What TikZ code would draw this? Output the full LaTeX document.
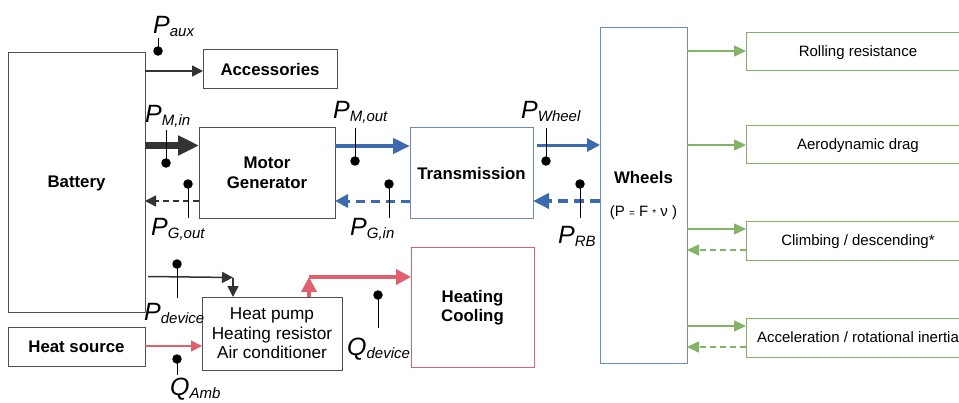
\documentclass[tikz,border=0pt]{standalone}
\usepackage{fontspec}
\setmainfont{Liberation Sans}
\usetikzlibrary{arrows.meta}
\definecolor{dk}{HTML}{333333}
\definecolor{bx}{HTML}{505050}
\definecolor{bl}{HTML}{3B6AAE}
\definecolor{blb}{HTML}{6C8EBF}
\definecolor{pk}{HTML}{E0606F}
\definecolor{gr}{HTML}{82B366}
\newcommand{\plab}[2]{{\fontsize{25}{25}\selectfont\itshape #1}\raisebox{-3pt}{\fontsize{15}{15}\selectfont\itshape #2}}
\begin{document}
\begin{tikzpicture}[x=1pt,y=-1pt,
  box/.style={draw=bx,line width=1pt,fill=white},
  bbox/.style={draw=blb,line width=1pt},
  pbox/.style={draw=pk,line width=1pt},
  gbox/.style={draw=gr,line width=1pt},
  btxt/.style={font=\fontsize{16.8}{19.5}\selectfont\bfseries,align=center},
  bone/.style={btxt,text depth=0pt},
  rtxt/.style={font=\fontsize{17.2}{19.5}\selectfont,align=center},
  gtxt/.style={font=\fontsize{15}{17}\selectfont,text depth=0pt},
  lab/.style={anchor=base west,inner sep=0pt},
  dotc/.style={fill=black,circle,inner sep=0pt,minimum size=9.5pt},
  stem/.style={draw=black,line width=1pt},
  thin/.style={draw=dk,line width=1.5pt,-{Triangle[length=11pt,width=11pt]}},
  fat/.style={draw=dk,line width=7pt,-{Triangle[length=21pt,width=19pt]}},
  gdash/.style={draw=dk,line width=1.5pt,dash pattern=on 6pt off 4pt,-{Triangle[length=11pt,width=11pt]}},
  blue4/.style={draw=bl,line width=4.5pt,-{Triangle[length=17pt,width=15pt]}},
  blue3/.style={draw=bl,line width=3pt,-{Triangle[length=13pt,width=13pt]}},
  blued3/.style={draw=bl,line width=3pt,dash pattern=on 9pt off 6pt,-{Triangle[length=13pt,width=13pt]}},
  blued4/.style={draw=bl,line width=4pt,dash pattern=on 10pt off 6pt,-{Triangle[length=16pt,width=15pt]}},
  pink4/.style={draw=pk,line width=4pt,-{Triangle[length=15pt,width=15pt]}},
  pink1/.style={draw=pk,line width=1.5pt,-{Triangle[length=11pt,width=11pt]}},
  green/.style={draw=gr,line width=1.5pt,-{Triangle[length=12pt,width=11pt]}},
  greend/.style={draw=gr,line width=1.5pt,dash pattern=on 6pt off 4pt,-{Triangle[length=12pt,width=11pt]}}
]
\useasboundingbox (0,0) rectangle (959,402);
\fill[white] (0,0) rectangle (959,402);

% boxes
\draw[box] (8,52) rectangle (145,312);
\node[bone] (battery) at (76.5,182) {Battery};
\draw[box] (203,49) rectangle (337,88);
\node[bone] (acc) at (270,69) {Accessories};
\draw[box] (199,127) rectangle (335,218);
\node[btxt] (motor) at (267,173) {Motor\\Generator};
\draw[bbox] (410,127) rectangle (533,218);
\node[bone] (trans) at (471.5,173) {Transmission};
\draw[bbox] (600,27) rectangle (687,363);
\node[bone] (wheels) at (643.5,177.5) {Wheels};
\node[font=\fontsize{15}{15}\selectfont] (formula) at (643.5,213) {(P {\fontsize{10}{10}\selectfont =} F {\fontsize{10}{10}\selectfont *} ν )};
\draw[pbox] (411,247) rectangle (534,367);
\node[btxt] (heat) at (472.5,307.5) {Heating\\Cooling};
\draw[box] (202,297) rectangle (342,370);
\node[rtxt] (pump) at (272,333.5) {Heat pump\\Heating resistor\\Air conditioner};
\draw[box] (8,327) rectangle (145,366);
\node[bone] (src) at (76.5,347) {Heat source};

\draw[gbox] (746,32) rectangle (975,70);
\node[gtxt] (roll) at (858,51) {Rolling resistance};
\draw[gbox] (746,125) rectangle (975,163);
\node[gtxt] (aero) at (858,144) {Aerodynamic drag};
\draw[gbox] (746,221) rectangle (975,260);
\node[gtxt] (climb) at (858,240.5) {Climbing / descending*};
\draw[gbox] (746,318) rectangle (975,357);
\node[gtxt] (accel) at (858,337.5) {Acceleration / rotational inertia};

% coordinates for connectors
\coordinate (bA) at (145,71);   \coordinate (aA) at (203,71);
\coordinate (bM) at (145,145.5);\coordinate (mB) at (199,145.5);
\coordinate (mG) at (199,201);  \coordinate (bG) at (145,201);
\coordinate (mT) at (335,146);  \coordinate (tM) at (410,146);
\coordinate (tG) at (410,201);  \coordinate (mT2) at (335,201);
\coordinate (tW) at (537,145);  \coordinate (wT) at (600,145);
\coordinate (wR) at (600,201);  \coordinate (tR) at (533,201);
\coordinate (bD) at (148,276.5);\coordinate (cD) at (233,277.5);
\coordinate (pD) at (233,297);
\coordinate (sH) at (145,346);  \coordinate (pH) at (202,346);
\coordinate (pU) at (309,297);  \coordinate (cU) at (309,277);
\coordinate (hU) at (411,277);
\coordinate (w1) at (687,51);   \coordinate (r1) at (746,51);
\coordinate (w2) at (687,145);  \coordinate (r2) at (746,145);
\coordinate (w3) at (687,229);  \coordinate (r3) at (746,229);
\coordinate (w3b) at (687,250); \coordinate (r3b) at (746,250);
\coordinate (w4) at (687,326);  \coordinate (r4) at (746,326);
\coordinate (w4b) at (687,347); \coordinate (r4b) at (746,347);

% connectors
\draw[thin] (bA) -- (aA);
\draw[fat] (bM) -- (mB);
\draw[gdash] (mG) -- (bG);
\draw[blue4] (mT) -- (tM);
\draw[blued3] (tG) -- (mT2);
\draw[blue3] (tW) -- (wT);
\draw[blued4] (wR) -- (tR);
\draw[thin] (bD) -- (cD);
\draw[thin] (cD) -- (pD);
\draw[pink1] (sH) -- (pH);
\draw[pink4] (pU) -- (cU);
\draw[pink4] (cU) -- (hU);
\draw[green] (w1) -- (r1);
\draw[green] (w2) -- (r2);
\draw[green] (w3) -- (r3);
\draw[greend] (r3b) -- (w3b);
\draw[green] (w4) -- (r4);
\draw[greend] (r4b) -- (w4b);

% measurement points
\node[dotc] (d1) at (158,51) {};  \coordinate (e1) at (158,38);  \draw[stem] (d1.center) -- (e1);
\node[dotc] (d2) at (166,163) {}; \coordinate (e2) at (166,130); \draw[stem] (d2.center) -- (e2);
\node[dotc] (d3) at (188,184) {}; \coordinate (e3) at (188,218); \draw[stem] (d3.center) -- (e3);
\node[dotc] (d4) at (355,161) {}; \coordinate (e4) at (355,128); \draw[stem] (d4.center) -- (e4);
\node[dotc] (d5) at (389,184) {}; \coordinate (e5) at (389,218); \draw[stem] (d5.center) -- (e5);
\node[dotc] (d6) at (546,161) {}; \coordinate (e6) at (546,128); \draw[stem] (d6.center) -- (e6);
\node[dotc] (d7) at (580,184) {}; \coordinate (e7) at (580,218); \draw[stem] (d7.center) -- (e7);
\node[dotc] (d8) at (177,264) {}; \coordinate (e8) at (177,298); \draw[stem] (d8.center) -- (e8);
\node[dotc] (d9) at (177,359) {}; \coordinate (e9) at (177,375); \draw[stem] (d9.center) -- (e9);
\node[dotc] (d10) at (378,295) {};\coordinate (e10) at (378,328);\draw[stem] (d10.center) -- (e10);

% labels
\node[lab] (l1) at (153,33) {\plab{P}{aux}};
\node[lab] (l2) at (145,122) {\plab{P}{M,in}};
\node[lab] (l3) at (151,235) {\plab{P}{G,out}};
\node[lab] (l4) at (333,118) {\plab{P}{M,out}};
\node[lab] (l5) at (350,235) {\plab{P}{G,in}};
\node[lab] (l6) at (521,118) {\plab{P}{Wheel}};
\node[lab] (l7) at (558,243) {\plab{P}{RB}};
\node[lab] (l8) at (144,320) {\plab{P}{device}};
\node[lab] (l9) at (170,395) {\plab{Q}{Amb}};
\node[lab] (l10) at (347,355) {\plab{Q}{device}};
\end{tikzpicture}
\end{document}
